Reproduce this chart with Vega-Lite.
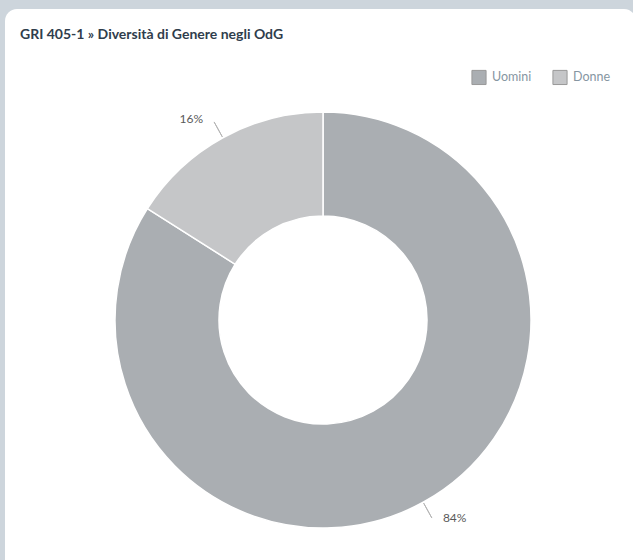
{
  "$schema": "https://vega.github.io/schema/vega-lite/v6.json",
  "width": 633,
  "height": 560,
  "autosize": {"type": "fit", "contains": "padding"},
  "padding": {"left": 5, "top": 9, "right": -3, "bottom": -15},
  "background": "#cdd5dc",
  "view": {"fill": "white", "stroke": null, "cornerRadius": 12},
  "config": {"font": "Lato"},
  "title": {
    "text": "GRI 405-1 » Diversità di Genere negli OdG",
    "anchor": "start",
    "frame": "group",
    "dx": 15,
    "offset": -44,
    "baseline": "alphabetic",
    "font": "Lato",
    "fontSize": 14,
    "fontWeight": "bold",
    "color": "#2f3d4c"
  },
  "data": {
    "values": [
      {"genere": "Uomini", "valore": 84, "label": "84%"},
      {"genere": "Donne", "valore": 16, "label": "16%"}
    ]
  },
  "layer": [
    {
      "mark": {
        "type": "arc",
        "radius": 208,
        "radius2": 104,
        "stroke": "white",
        "strokeWidth": 1.5,
        "x": {"expr": "width/2+2.5"},
        "y": {"expr": "height/2+28"}
      },
      "encoding": {
        "theta": {"field": "valore", "type": "quantitative", "stack": true},
        "order": {"field": "genere", "sort": "descending"},
        "color": {
          "field": "genere",
          "type": "nominal",
          "scale": {"domain": ["Uomini", "Donne"], "range": ["#aaaeb2", "#c5c6c8"]},
          "legend": {
            "title": null,
            "orient": "none",
            "legendX": 466,
            "legendY": 60,
            "direction": "horizontal",
            "symbolType": "square",
            "symbolSize": 200,
            "symbolStrokeColor": "#999",
            "symbolStrokeWidth": 1,
            "labelColor": "#8696a2",
            "labelFont": "Lato",
            "labelFontSize": 12.5,
            "labelOffset": 5,
            "columnPadding": 18,
            "symbolOffset": 0
          }
        }
      }
    },
    {
      "transform": [
        {"stack": "valore", "groupby": [], "as": ["v0", "v1"], "sort": [{"field": "genere", "order": "descending"}]}
      ],
      "mark": {
        "type": "arc",
        "radius": 226,
        "radius2": 209,
        "theta": {"expr": "PI*(datum.v0+datum.v1)/100"},
        "theta2": {"expr": "PI*(datum.v0+datum.v1)/100"},
        "stroke": "#b5b5b5",
        "strokeWidth": 1,
        "fill": null,
        "x": {"expr": "width/2+2.5"},
        "y": {"expr": "height/2+28"}
      },
      "encoding": {
        "detail": {"field": "genere", "type": "nominal"}
      }
    },
    {
      "mark": {
        "type": "text",
        "radius": 226,
        "fontSize": 12,
        "font": "Lato",
        "color": "#5a5a5a",
        "baseline": "middle",
        "align": {"expr": "datum.genere == 'Uomini' ? 'left' : 'right'"},
        "dx": {"expr": "datum.genere == 'Uomini' ? 11 : -11"},
        "dy": {"expr": "datum.genere == 'Uomini' ? 0 : -3"},
        "x": {"expr": "width/2+2.5"},
        "y": {"expr": "height/2+28"}
      },
      "encoding": {
        "theta": {"field": "valore", "type": "quantitative", "stack": true},
        "order": {"field": "genere", "sort": "descending"},
        "text": {"field": "label", "type": "nominal"},
        "detail": {"field": "genere", "type": "nominal"}
      }
    }
  ]
}
